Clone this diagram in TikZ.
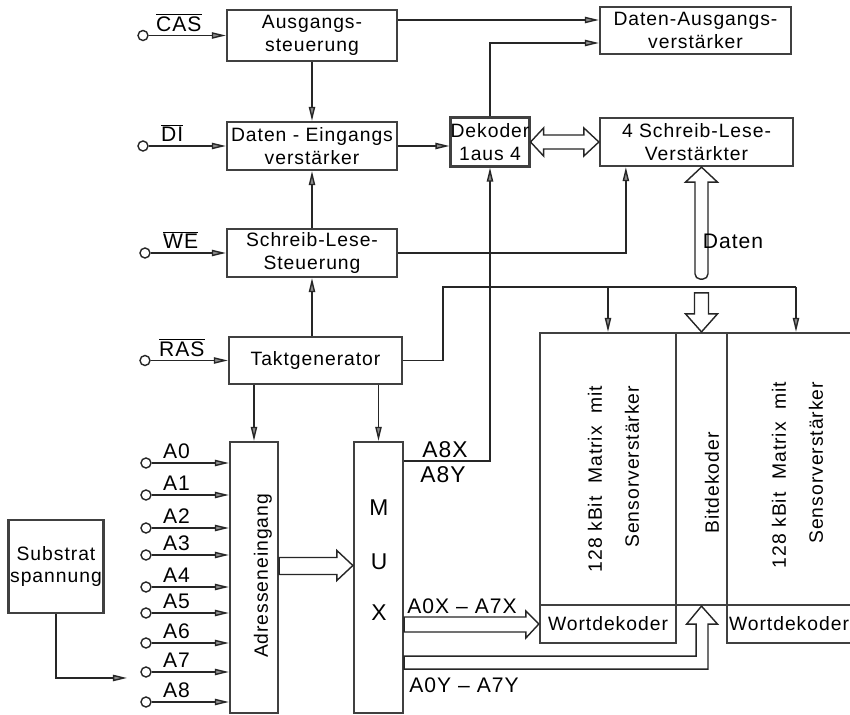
\documentclass[tikz,border=0pt]{standalone}
\usepackage{fontspec}
\setmainfont{Liberation Sans}[LetterSpace=5.0]
\usetikzlibrary{arrows.meta, positioning, calc}
\tikzset{
  blk/.style={draw=black!75, line width=1.3pt, fill=white, inner sep=1pt, align=center, font=\fontsize{11}{13}\selectfont},
  wire/.style={draw=black!85, line width=0.8pt},
  sig/.style={wire, -{Triangle[length=8pt, width=3.6pt, fill=black!45]}},
  hollow/.style={draw=black!85, line width=0.8pt, fill=white, line join=miter},
  term/.style={circle, draw=black!85, line width=0.8pt, inner sep=0pt, minimum size=0.2cm, fill=white},
  tlabel/.style={anchor=south west, inner sep=1pt, font=\fontsize{12}{14}\selectfont},
  txt/.style={inner sep=1pt, font=\fontsize{11}{13}\selectfont},
}

\begin{document}
\begin{tikzpicture}[x=0.02cm, y=-0.02cm]
\useasboundingbox[fill=white] (0,0) rectangle (850,715);

% Steuerung links
\node[blk, minimum width=3.4cm, minimum height=1.02cm] (ausg) at (312,35.5) {Ausgangs-\\steuerung};
\node[blk, minimum width=3.4cm, minimum height=0.96cm] (dein) at (312,146) {Daten - Eingangs\\verstärker};
\node[blk, minimum width=3.4cm, minimum height=0.96cm] (slst) at (312,253) {Schreib-Lese-\\Steuerung};
\node[blk, minimum width=3.46cm, minimum height=0.94cm] (takt) at (315.5,360.5) {Taktgenerator};

% Adressen und MUX
\node[blk, minimum width=0.96cm, minimum height=5.42cm] (addr) at (254,577.5) {};
\node[txt, rotate=90] (addrtxt) at (263,576) {Adresseneingang};
\node[blk, minimum width=0.98cm, minimum height=5.42cm] (mux) at (378.5,577.5) {};
\node[txt, font=\fontsize{13}{15}\selectfont] (muxm) at (379,508) {M};
\node[txt, font=\fontsize{13}{15}\selectfont] (muxu) at (379,562) {U};
\node[txt, font=\fontsize{13}{15}\selectfont] (muxx) at (379,613) {X};
\node[blk, minimum width=1.76cm, minimum height=1.86cm] (subst) at (56,566.5) {Substrat\\spannung};

% rechte Seite
\node[blk, minimum width=3.82cm, minimum height=0.94cm] (daus) at (695.5,30.5) {Daten-Ausgangs-\\verstärker};
\node[blk, minimum width=1.56cm, minimum height=0.98cm, inner sep=0pt] (dek) at (490,142) {Dekoder\\1aus 4};
\node[blk, minimum width=3.86cm, minimum height=0.96cm] (slv) at (696.5,142) {4 Schreib-Lese-\\Verstärkter};

% Speichermatrix
\node[blk, minimum width=2.72cm, minimum height=5.44cm] (mat1) at (608,469) {};
\node[blk, minimum width=1.02cm, minimum height=5.44cm] (bitdek) at (701.5,469) {};
\node[blk, minimum width=2.76cm, minimum height=5.44cm] (mat2) at (796,469) {};
\node[blk, minimum width=2.72cm, minimum height=0.76cm] (wd1) at (608,624) {Wortdekoder};
\node[blk, minimum width=2.76cm, minimum height=0.76cm] (wd2) at (796,624) {};
\node[txt] (wd2txt) at (789,624) {Wortdekoder};
\node[txt, rotate=90, align=right] (mat1txt) at (613.5,479) {128 kBit\ \ Matrix\ \ mit\\[8pt]Sensorverstärker};
\node[txt, rotate=90, align=right] (mat2txt) at (797.5,475) {128 kBit\ \ Matrix\ \ mit\\[8pt]Sensorverstärker};
\node[txt, rotate=90] (bitdektxt) at (712,483) {Bitdekoder};

% Anschluesse
\node[term] (cas) at (143,35.5) {};
\node[term] (di) at (143,146) {};
\node[term] (we) at (145,253) {};
\node[term] (ras) at (145,360.5) {};
\node[tlabel] (lcas) at ($(cas)+(11,-2)$) {$\overline{\hbox{CAS}}$};
\node[tlabel] (ldi) at ($(di)+(16,-2)$) {$\overline{\hbox{DI}}$};
\node[tlabel] (lwe) at ($(we)+(16,-2)$) {$\overline{\hbox{WE}}$};
\node[tlabel] (lras) at ($(ras)+(12,-2)$) {$\overline{\hbox{RAS}}$};
\draw[sig] (cas) -- (cas -| ausg.west);
\draw[sig] (di) -- (di -| dein.west);
\draw[sig] (we) -- (we -| slst.west);
\draw[sig] (ras) -- (ras -| takt.west);

\foreach \i/\y in {0/463,1/495,2/528,3/555,4/587,5/613,6/643,7/672,8/702} {
  \node[term] (a\i) at (146,\y) {};
  \node[tlabel] (la\i) at ($(a\i)+(15,-2)$) {A\i};
  \draw[sig] (a\i) -- (a\i -| addr.west);
}

% Verbindungen
\draw[sig] (ausg.south) -- (dein.north);
\draw[sig] (slst.north) -- (dein.south);
\draw[sig] (slst.south |- takt.north) -- (slst.south);
\draw[sig] (ausg.east) ++(0,-15.5) coordinate (p1) -- (p1 -| daus.west);
\draw[sig] (dein.east) -- (dein.east -| dek.west);
\draw[sig] (dek.north) |- ($(daus.west)+(0,12.5)$);
\draw[sig] (slst.east) -| ($(slv.south west)+(27,0)$);
\draw[sig] ($(mux.north east)+(0,20)$) -| (dek.south);
\draw[sig] (takt.south -| addr.north) -- (addr.north);
\draw[sig] (takt.south -| mux.north) -- (mux.north);

\coordinate (bus) at (443,287);
\draw[wire] (takt.east) -| (bus) -- (bus -| mat2.north);
\draw[sig] (bus -| mat1.north) -- (mat1.north);
\draw[sig] (bus -| mat2.north) -- (mat2.north);

\coordinate (subend) at (127,678);
\draw[sig] (subst.south) |- (subend);

% Datenpfeile
\draw[hollow] (dek.east) -- ++(13,-14) -- ++(0,7) -- ($(slv.west)+(-15,-7)$) -- ++(0,-7) -- (slv.west)
  -- ++(-15,14) -- ++(0,-7) -- ($(dek.east)+(13,7)$) -- ++(0,7) -- cycle;
\coordinate (dtip) at (slv.south -| bitdek.north);
\draw[hollow] (dtip) -- ++(16,15) -- ++(-9.5,0) {[rounded corners=3pt] -- ++(0,97) -- ++(-13,0)} -- ++(0,-97) -- ++(-9.5,0) -- cycle;
\node[txt, font=\fontsize{12}{14}\selectfont] (ldaten) at (733,241) {Daten};
\draw[hollow] (bitdek.north) -- ++(-16,-18) -- ++(9,0) -- ++(0,-21) -- ++(14,0) -- ++(0,21) -- ++(9,0) -- cycle;
\draw[hollow] ($(mux.west)+(0,-12)$) coordinate (amt) -- ++(-16,-15) -- ++(0,7) -- ($(addr.east)+(0,-20)$)
  -- ($(addr.east)+(0,-3)$) -- ($(amt)+(-16,9)$) -- ++(0,6) -- cycle;
\draw[hollow] (wd1.west) -- ++(-13,-13) -- ++(0,6) coordinate (w1) -- (w1 -| mux.east) -- ++(0,15) coordinate (w2)
  -- (w2 -| w1) -- ++(0,6) -- cycle;
\draw[hollow] (bitdek.south) -- ++(16,18) -- ++(-9.5,0) -- ++(0,45) coordinate (b2) -- (b2 -| mux.east)
  -- ++(0,-13) coordinate (b3) -- ++(292,0) -- ++(0,-32) -- ++(-9.5,0) -- cycle;

% Adressbezeichnungen
\node[txt, font=\fontsize{13}{15}\selectfont] (la8x) at (445,450) {A8X};
\node[txt, font=\fontsize{13}{15}\selectfont] (la8y) at (443,475) {A8Y};
\node[txt, font=\fontsize{12}{14}\selectfont] (la0x) at (462,606) {A0X – A7X};
\node[txt, font=\fontsize{12}{14}\selectfont] (la0y) at (464,685) {A0Y – A7Y};
\end{tikzpicture}
\end{document}
